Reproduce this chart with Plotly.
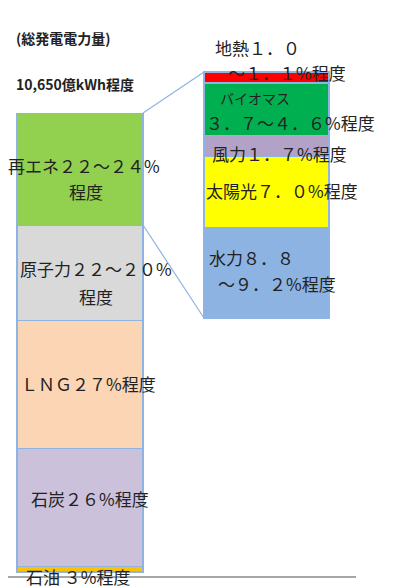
import plotly.graph_objects as go

# left bar (drawn heights, % of total)
left_names = ["石油", "石炭", "LNG", "原子力", "再エネ"]
left_vals = [1.2, 25.7, 27.9, 20.7, 24.4]
left_colors = ["#ffc000", "#ccc1da", "#fcd5b5", "#d9d9d9", "#92d050"]
# right bar: breakdown of renewables (%)
right_names = ["水力", "太陽光", "風力", "バイオマス", "地熱"]
right_vals = [9.0, 7.0, 2.1, 5.2, 1.1]
right_colors = ["#8db3e2", "#ffff00", "#b3a2c7", "#00b050", "#ff0000"]

W, H = 403, 588
OFF = 8  # page body margin
fig = go.Figure()
for n, v, c in zip(left_names, left_vals, left_colors):
    fig.add_bar(x=[80 - OFF], y=[v], width=[126], name=n, marker=dict(color=c, line=dict(color="#8eb4e3", width=1.5)),
                xaxis="x", yaxis="y")
for n, v, c in zip(right_names, right_vals, right_colors):
    fig.add_bar(x=[266.5 - OFF], y=[v], width=[125], name=n, marker=dict(color=c, line=dict(color="#8eb4e3", width=1.5)),
                xaxis="x", yaxis="y2")

F = "Noto Sans CJK JP"
def ann(x, y, t, size=17, bold=False, anchor="left"):
    fig.add_annotation(x=(x - OFF) / W, y=1 - (y - OFF) / H, xref="paper", yref="paper",
                       text=f"<b>{t}</b>" if bold else t,
                       showarrow=False, xanchor=anchor, yanchor="middle",
                       font=dict(family=F, size=size, color="#222"))

ann(14, 38, "(総発電電力量)", 14, True)
ann(14, 84, "10,650億kWh程度", 14, True)
ann(84, 165, "再エネ２２～２４%", 17, anchor="center")
ann(86, 191, "程度", 17, anchor="center")
ann(96, 268, "原子力２２～２０%", 17, anchor="center")
ann(96, 296, "程度", 17, anchor="center")
ann(88, 383, "ＬＮＧ２７%程度", 17, anchor="center")
ann(90, 498, "石炭２６%程度", 17, anchor="center")
ann(78, 576, "石油 ３%程度", 17, anchor="center")
ann(213, 48, "地熱１．０", 17)
ann(226, 73, "～１．１%程度", 17)
ann(218, 98, "バイオマス", 14)
ann(204, 123, "３．７～４．６%程度", 17)
ann(210, 153, "風力１．７%程度", 17)
ann(204, 190, "太陽光７．０%程度", 17)
ann(207, 258, "水力８．８", 17)
ann(216, 283, "～９．２%程度", 17)

def line(x0, y0, x1, y1, color="#8eb4e3", w=1.2):
    fig.add_shape(type="line", xref="paper", yref="paper",
                  x0=(x0 - OFF) / W, y0=1 - (y0 - OFF) / H, x1=(x1 - OFF) / W, y1=1 - (y1 - OFF) / H,
                  line=dict(color=color, width=w))
line(143, 113, 204, 72)
line(143, 225, 204, 318)
line(8, 577, 356, 577, "#888", 1.5)

fig.update_layout(
    width=W, height=H, margin=dict(l=0, r=0, t=0, b=0), barmode="stack", showlegend=False,
    paper_bgcolor="white", plot_bgcolor="white",
    xaxis=dict(range=[0, W], visible=False),
    yaxis=dict(range=[-(H - 564) / 4.59, 100 + 105 / 4.59], visible=False),
    yaxis2=dict(range=[-(H - 310) / 10.08, 24.4 + 64 / 10.08], visible=False, overlaying="y"),
)
fig.write_html("out.html")
